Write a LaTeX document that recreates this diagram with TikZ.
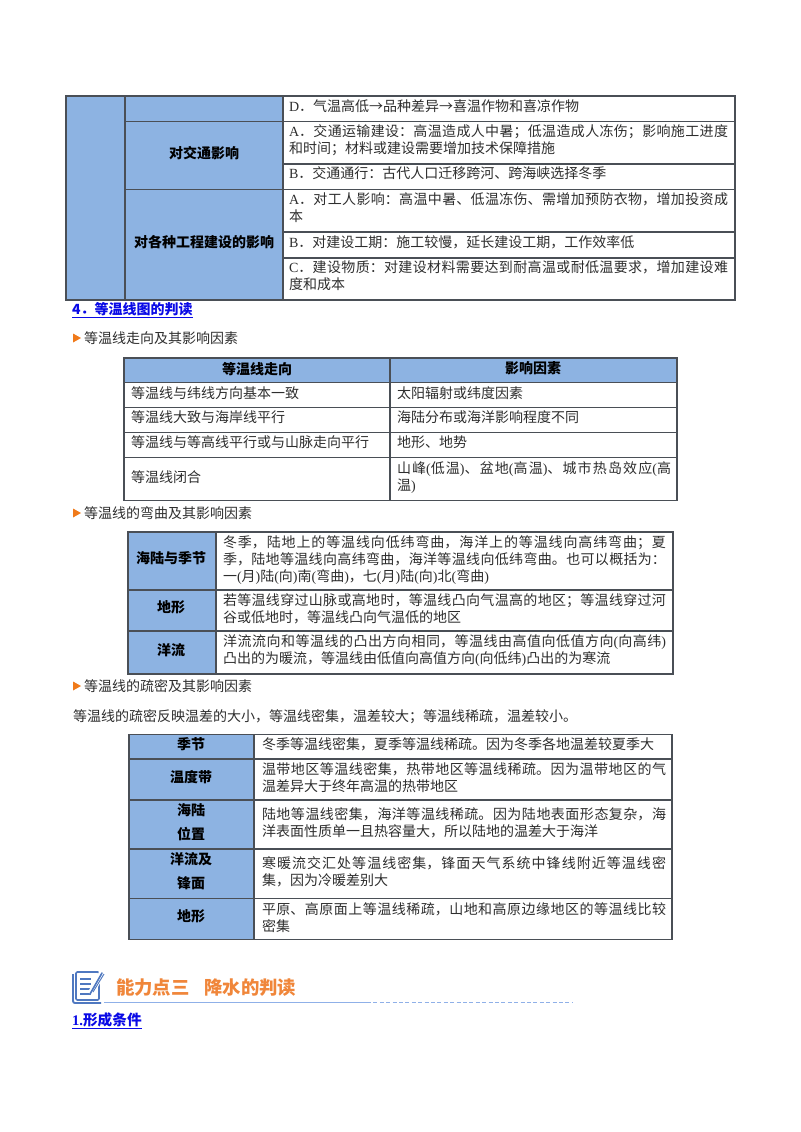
\documentclass[tikz,border=0pt]{standalone}
\usepackage{fontspec}
\setmainfont{Noto Sans CJK SC}
\newfontfamily\latf{Liberation Serif}
\newcommand\la[1]{{\latf #1}}
\XeTeXlinebreaklocale "zh"
\XeTeXlinebreakskip=0pt plus 2pt
\AtBeginDocument{\tolerance=10000\relax\emergencystretch=2em\relax\hyphenpenalty=10000\relax}
\definecolor{cellblue}{HTML}{8DB3E2}
\definecolor{gridgray}{HTML}{4A4F56}
\definecolor{bodyink}{HTML}{2E2E2E}
\definecolor{headblue}{HTML}{0A0AE6}
\definecolor{headorange}{HTML}{F0863A}
\definecolor{markerorange}{HTML}{F07A1A}
\definecolor{ruleblue}{HTML}{8FB0E8}
\definecolor{iconblue}{HTML}{4F78C0}
\newcommand\firststrut{\vrule width 0pt height 9.6pt depth 0pt\relax}
\tikzset{
  x=0.75pt,y=-0.75pt,
  bodytext/.style={inner sep=0pt,outer sep=0pt,anchor=north west,text=bodyink,align=justify,
    font=\fontsize{10.5}{12.75}\selectfont},
  celllabel/.style={inner sep=0pt,outer sep=0pt,anchor=center,text=black,
    font=\fontsize{10.5}{12.75}\selectfont\bfseries},
  plainline/.style={inner sep=0pt,outer sep=0pt,anchor=west,text=bodyink,
    font=\fontsize{10.5}{12.75}\selectfont},
  linkhead/.style={inner sep=0pt,outer sep=0pt,anchor=west,text=headblue,
    font=\fontsize{10.5}{12.75}\selectfont\bfseries},
  grid/.style={draw=gridgray,line width=0.8pt},
  bluecell/.style={fill=cellblue,draw=none},
  marker/.style={fill=markerorange,draw=none},
}
% name, x, centre y of first line, width, text
\newcommand\tcell[5]{\node[bodytext,text width=#4*0.75pt] (#1) at (#2,#3-7.5) {\firststrut #5};}
\newcommand\bullethead[4]{%
  \fill[marker] (#2,#3-4.5) -- (#2+8,#3) -- (#2,#3+4.5) -- cycle;
  \node[plainline] (#1) at (#2+11,#3) {#4};}
\begin{document}
\begin{tikzpicture}
\fill[white] (0,0) rectangle (800,1132);
\useasboundingbox (0,0) rectangle (800,1132);

% ---------- table 1
\fill[bluecell] (66,96) rectangle (283,300);
\draw[grid] (66,96) rectangle (735,300);
\draw[grid] (125,96) -- (125,300);
\draw[grid] (283,96) -- (283,300);
\foreach \yy in {121.5,189.5} \draw[grid] (125,\yy) -- (735,\yy);
\foreach \yy in {164,232,258} \draw[grid] (283,\yy) -- (735,\yy);
\node[celllabel] (t1a) at (204,153) {对交通影响};
\node[celllabel] (t1b) at (204,242) {对各种工程建设的影响};
\tcell{t1c}{289}{106}{440}{\la{D}．气温高低→品种差异→喜温作物和喜凉作物}
\tcell{t1d}{289}{131}{439}{\la{A}．交通运输建设：高温造成人中暑；低温造成人冻伤；影响施工进度\linebreak 和时间；材料或建设需要增加技术保障措施}
\tcell{t1e}{289}{173}{440}{\la{B}．交通通行：古代人口迁移跨河、跨海峡选择冬季}
\tcell{t1f}{289}{199}{439}{\la{A}．对工人影响：高温中暑、低温冻伤、需增加预防衣物，增加投资成\linebreak 本}
\tcell{t1g}{289}{242}{440}{\la{B}．对建设工期：施工较慢，延长建设工期，工作效率低}
\tcell{t1h}{289}{267}{439}{\la{C}．建设物质：对建设材料需要达到耐高温或耐低温要求，增加建设难\linebreak 度和成本}

\node[linkhead] (h4) at (72,310) {\underline{4．等温线图的判读}};
\bullethead{b1}{73}{338}{等温线走向及其影响因素}

% ---------- table 2
\fill[bluecell] (124,358) rectangle (677,382.5);
\draw[grid] (124,358) rectangle (677,500.5);
\draw[grid] (390,358) -- (390,500.5);
\foreach \yy in {382.5,407.5,432.5,457.5} \draw[grid] (124,\yy) -- (677,\yy);
\node[celllabel] (t2a) at (257,369) {等温线走向};
\node[celllabel] (t2b) at (533,368) {影响因素};
\node[plainline] (t2c) at (131,393) {等温线与纬线方向基本一致};
\node[plainline] (t2d) at (397,393) {太阳辐射或纬度因素};
\node[plainline] (t2e) at (131,417) {等温线大致与海岸线平行};
\node[plainline] (t2f) at (397,417) {海陆分布或海洋影响程度不同};
\node[plainline] (t2g) at (131,442) {等温线与等高线平行或与山脉走向平行};
\node[plainline] (t2h) at (397,442) {地形、地势};
\node[plainline] (t2i) at (131,477) {等温线闭合};
\tcell{t2j}{397}{468}{274}{山峰\la{(}低温\la{)}、盆地\la{(}高温\la{)}、城市热岛效应\la{(}高\linebreak 温\la{)}}

\bullethead{b2}{73}{513}{等温线的弯曲及其影响因素}

% ---------- table 3
\fill[bluecell] (128,532) rectangle (216,674);
\draw[grid] (128,532) rectangle (673,674);
\draw[grid] (216,532) -- (216,674);
\foreach \yy in {590,631} \draw[grid] (128,\yy) -- (673,\yy);
\node[celllabel] (t3a) at (171,558) {海陆与季节};
\node[celllabel] (t3b) at (171,607) {地形};
\node[celllabel] (t3c) at (171,650) {洋流};
\tcell{t3d}{223}{542}{443}{冬季，陆地上的等温线向低纬弯曲，海洋上的等温线向高纬弯曲；夏\linebreak 季，陆地等温线向高纬弯曲，海洋等温线向低纬弯曲。也可以概括为：\linebreak 一\la{(}月\la{)}陆\la{(}向\la{)}南\la{(}弯曲\la{)}，七\la{(}月\la{)}陆\la{(}向\la{)}北\la{(}弯曲\la{)}}
\tcell{t3e}{223}{600}{443}{若等温线穿过山脉或高地时，等温线凸向气温高的地区；等温线穿过河\linebreak 谷或低地时，等温线凸向气温低的地区}
\tcell{t3f}{223}{641}{443}{洋流流向和等温线的凸出方向相同，等温线由高值向低值方向\la{(}向高纬\la{)}\linebreak 凸出的为暖流，等温线由低值向高值方向\la{(}向低纬\la{)}凸出的为寒流}

\bullethead{b3}{73}{686}{等温线的疏密及其影响因素}
\node[plainline] (p1) at (73,717) {等温线的疏密反映温差的大小，等温线密集，温差较大；等温线稀疏，温差较小。};

% ---------- table 4
\fill[bluecell] (129,734.5) rectangle (254,939.5);
\draw[grid] (129,734.5) rectangle (672,939.5);
\draw[grid] (254,734.5) -- (254,939.5);
\foreach \yy in {759,800,849,898.5} \draw[grid] (129,\yy) -- (672,\yy);
\node[celllabel] (t4a) at (191,744) {季节};
\node[celllabel] (t4b) at (191,777) {温度带};
\node[celllabel] (t4c) at (191,810) {海陆};
\node[celllabel] (t4d) at (191,834) {位置};
\node[celllabel] (t4e) at (191,859) {洋流及};
\node[celllabel] (t4f) at (191,883) {锋面};
\node[celllabel] (t4g) at (191,916) {地形};
\tcell{t4h}{262}{744}{404}{冬季等温线密集，夏季等温线稀疏。因为冬季各地温差较夏季大}
\tcell{t4i}{262}{769}{404}{温带地区等温线密集，热带地区等温线稀疏。因为温带地区的气\linebreak 温差异大于终年高温的热带地区}
\tcell{t4j}{262}{814}{404}{陆地等温线密集，海洋等温线稀疏。因为陆地表面形态复杂，海\linebreak 洋表面性质单一且热容量大，所以陆地的温差大于海洋}
\tcell{t4k}{262}{863}{404}{寒暖流交汇处等温线密集，锋面天气系统中锋线附近等温线密\linebreak 集，因为冷暖差别大}
\tcell{t4l}{262}{909}{404}{平原、高原面上等温线稀疏，山地和高原边缘地区的等温线比较\linebreak 密集}

% ---------- section heading
\draw[ruleblue,line width=0.8pt] (104,1002.5) -- (367,1002.5);
\draw[ruleblue,line width=0.9pt,dash pattern=on 3pt off 1.8pt] (367,1002.5) -- (573,1002.5);
% icon
\draw[iconblue,line width=1.4pt,rounded corners=1.5pt] (73,974) -- (73,1003) -- (101,1003);
\draw[iconblue,line width=1.2pt,fill=white,rounded corners=1pt] (76,972) rectangle (99,1000);
\foreach \yy in {979,984,989,994}
  \draw[iconblue,line width=0.8pt] (80,\yy) -- (91,\yy);
\fill[white] (88,992) -- (99,972) -- (106,972) -- (93,996) -- cycle;
\draw[iconblue,line width=1.2pt,line cap=round] (90,994) -- (102,973);
\draw[iconblue,line width=0.7pt] (93,992) -- (104,974);
\node[inner sep=0pt,outer sep=0pt,anchor=west,text=headorange,font=\fontsize{13.8}{16}\selectfont\bfseries] (sec) at (116,988) {能力点三\hspace{0.8em}降水的判读};
\node[inner sep=0pt,outer sep=0pt,anchor=west,text=headblue,font=\fontsize{11}{13}\selectfont\bfseries] (h1) at (72,1021) {\underline{\la{1.}形成条件}};
\end{tikzpicture}
\end{document}
